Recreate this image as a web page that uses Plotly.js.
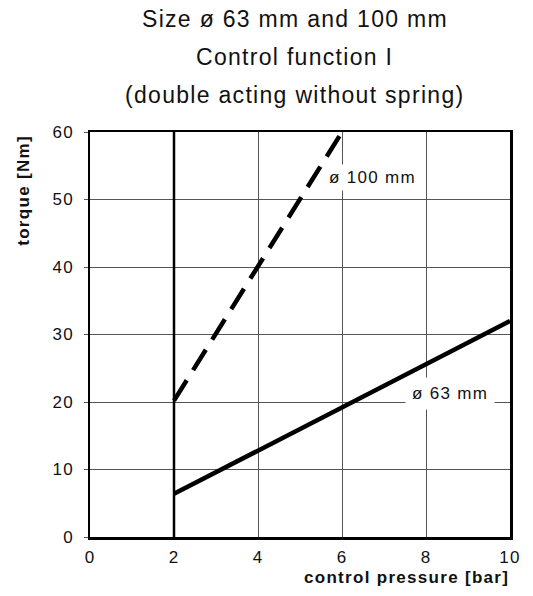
<!DOCTYPE html>
<html>
<head>
<meta charset="utf-8">
<script src="https://cdn.plot.ly/plotly-3.0.1.min.js"></script>
<style>
  html, body { margin: 0; padding: 0; background: #fff; }
  #chart { width: 533px; height: 596px; }
  text { letter-spacing: 1.3px; }
</style>
</head>
<body>
<div id="chart"></div>
<script>
// Data
const pressure63 = [2, 10];
const torque63 = [6.4, 32];
const pressure100 = [2, 6];
const torque100 = [20.2, 60];
const minPressure = [2, 2];
const minPressureTorque = [0, 60];

const titleLines = ["Size ø 63 mm and 100 mm", "Control function I", "(double acting without spring)"];
const xTitle = "control pressure [bar]";
const yTitle = "torque [Nm]";
const label63 = "ø 63 mm";
const label100 = "ø 100 mm";
const xTicks = [0, 2, 4, 6, 8, 10];
const yTicks = [0, 10, 20, 30, 40, 50, 60];

const FONT = '"Liberation Sans", Arial, Helvetica, sans-serif';

const traces = [
  { x: minPressure, y: minPressureTorque, mode: 'lines', line: { color: '#000', width: 2.5 }, hoverinfo: 'skip', showlegend: false },
  { x: pressure63, y: torque63, mode: 'lines', line: { color: '#000', width: 4.5 }, showlegend: false },
  { x: pressure100, y: torque100, mode: 'lines', line: { color: '#000', width: 4.5, dash: '24px,12px' }, showlegend: false }
];

const titleY = [1.279, 1.186, 1.091];
const annotations = titleLines.map((t, i) => ({
  text: t, xref: 'paper', yref: 'paper', x: 0.488, y: titleY[i],
  xanchor: 'center', yanchor: 'middle', showarrow: false,
  font: { family: FONT, size: 23, color: '#111' }
}));
annotations.push(
  { text: '<b>' + xTitle + '</b>', xref: 'paper', yref: 'paper', x: 1.003, y: -0.101,
    xanchor: 'right', yanchor: 'middle', showarrow: false, font: { family: FONT, size: 17, color: '#111' } },
  { text: '<b>' + yTitle + '</b>', xref: 'paper', yref: 'paper', x: -0.157, y: 0.855,
    xanchor: 'center', yanchor: 'middle', textangle: -90, showarrow: false, font: { family: FONT, size: 17, color: '#111' } },
  { text: label100, xref: 'x', yref: 'y', x: 6.72, y: 53.3, xanchor: 'center', yanchor: 'middle',
    showarrow: false, bgcolor: '#fff', borderpad: 3, font: { family: FONT, size: 17, color: '#111' } },
  { text: label63, xref: 'x', yref: 'y', x: 8.57, y: 21.2, xanchor: 'center', yanchor: 'middle',
    showarrow: false, bgcolor: '#fff', borderpad: 6, font: { family: FONT, size: 17, color: '#111' } }
);

const layout = {
  width: 533, height: 596,
  margin: { l: 90, r: 23, t: 132, b: 59 },
  paper_bgcolor: '#fff', plot_bgcolor: '#fff',
  font: { family: FONT, size: 17, color: '#111' },
  xaxis: {
    range: [0, 10], tickvals: xTicks, ticktext: xTicks.map(String),
    showgrid: true, gridcolor: '#555', gridwidth: 1,
    showline: true, linecolor: '#000', linewidth: 2.5, mirror: true,
    ticks: '', ticklabelstandoff: 3, zeroline: false, fixedrange: true,
    tickfont: { family: FONT, size: 17, color: '#111' }
  },
  yaxis: {
    range: [0, 60], tickvals: yTicks, ticktext: yTicks.map(String),
    showgrid: true, gridcolor: '#555', gridwidth: 1,
    showline: true, linecolor: '#000', linewidth: 2.5, mirror: true,
    ticks: 'outside', ticklen: 4, tickwidth: 1, tickcolor: '#555',
    ticklabelstandoff: 6, zeroline: false, fixedrange: true,
    tickfont: { family: FONT, size: 17, color: '#111' }
  },
  annotations: annotations
};

Plotly.newPlot('chart', traces, layout, { staticPlot: true, displayModeBar: false });
</script>
</body>
</html>
